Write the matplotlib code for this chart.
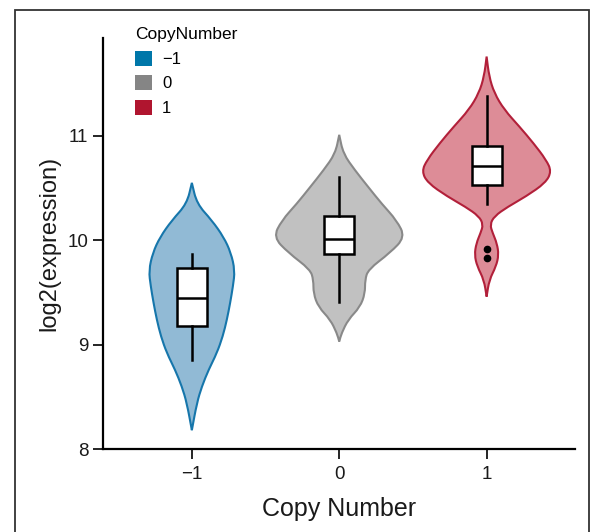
import matplotlib
matplotlib.use("Agg")
import matplotlib.pyplot as plt
from matplotlib.path import Path
from matplotlib.patches import PathPatch, Patch, Rectangle

plt.rcParams['font.family'] = ['Liberation Sans', 'DejaVu Sans']

# groups
groups = [-1, 0, 1]
group_labels = ['\u22121', '0', '1']
edge_colors = ['#1676AB', '#898989', '#B2203A']
fill_colors = ['#91BAD5', '#C1C1C1', '#DD8C97']
legend_colors = ['#0077A9', '#858585', '#B0152F']

# violin outlines: y levels and half widths (x units)
blue_y = [8.18, 8.44, 8.60, 8.76, 8.92, 9.08, 9.24, 9.40, 9.56, 9.71, 9.88, 10.03, 10.19, 10.35, 10.55]
blue_hw = [0.0, 0.034, 0.068, 0.114, 0.17, 0.21, 0.238, 0.26, 0.279, 0.292, 0.265, 0.216, 0.136, 0.034, 0.0]

gray_y = [9.03, 9.11, 9.24, 9.36, 9.49, 9.62, 9.72, 9.88, 10.03, 10.19, 10.35, 10.51, 10.67, 10.83, 11.01]
gray_hw = [0.0, 0.016, 0.061, 0.141, 0.175, 0.175, 0.197, 0.345, 0.447, 0.39, 0.288, 0.197, 0.107, 0.027, 0.0]

red_y = [9.46, 9.62, 9.75, 9.86, 9.97, 10.07, 10.15, 10.23, 10.32, 10.42, 10.55, 10.66, 10.77,
         10.93, 11.09, 11.25, 11.41, 11.57, 11.76]
red_hw = [0.0, 0.018, 0.064, 0.082, 0.07, 0.041, 0.023, 0.052, 0.143, 0.267, 0.40, 0.44, 0.404,
          0.318, 0.222, 0.12, 0.052, 0.017, 0.0]

violin_y = [blue_y, gray_y, red_y]
violin_hw = [blue_hw, gray_hw, red_hw]

# box statistics
whislo = [8.85, 9.41, 10.35]
q1 = [9.18, 9.87, 10.53]
med = [9.45, 10.01, 10.71]
q3 = [9.73, 10.23, 10.90]
whishi = [9.865, 10.61, 11.38]
fliers = [[], [], [9.913, 9.827]]


def violin_path(x0, ys, hws):
    pts = [(x0 + w, y) for y, w in zip(ys, hws)]
    pts += [(x0 - w, y) for y, w in zip(ys[::-1], hws[::-1])]
    # keep the tips sharp
    pts = [pts[0]] + pts[:len(ys)] + [pts[len(ys) - 1]] + pts[len(ys):] + [pts[-1]]
    n = len(pts)
    mid = lambda a, b: ((a[0] + b[0]) / 2, (a[1] + b[1]) / 2)
    verts = [mid(pts[-1], pts[0])]
    codes = [Path.MOVETO]
    for i in range(n):
        verts += [pts[i], mid(pts[i], pts[(i + 1) % n])]
        codes += [Path.CURVE3, Path.CURVE3]
    return Path(verts, codes)


fig = plt.figure(figsize=(5.91, 5.32), dpi=100)
ax = fig.add_axes([0.175, 0.156, 0.798, 0.773])

for i, g in enumerate(groups):
    p = violin_path(g, violin_y[i], violin_hw[i])
    ax.add_patch(PathPatch(p, facecolor=fill_colors[i], edgecolor=edge_colors[i], lw=1.5, zorder=2))

stats = []
for i in range(3):
    stats.append(dict(med=med[i], q1=q1[i], q3=q3[i], whislo=whislo[i], whishi=whishi[i],
                      fliers=fliers[i]))
ax.bxp(stats, positions=groups, widths=0.204, patch_artist=True, showcaps=False,
       boxprops=dict(facecolor='white', edgecolor='black', lw=1.8),
       medianprops=dict(color='black', lw=1.8),
       whiskerprops=dict(color='black', lw=1.8),
       flierprops=dict(marker='o', markerfacecolor='black', markeredgecolor='black', markersize=4.5),
       zorder=3)

ax.set_xlim(-1.6, 1.6)
ax.set_ylim(8, 11.94)
ax.set_xticks(groups)
ax.set_xticklabels(group_labels)
ax.set_yticks([8, 9, 10, 11])
for s in ['top', 'right']:
    ax.spines[s].set_visible(False)
for s in ['left', 'bottom']:
    ax.spines[s].set_linewidth(1.6)
ax.tick_params(length=7, width=1.2, labelsize=13.5, labelcolor='#1a1a1a', pad=5)
ax.tick_params(axis='y', pad=4)

ax.set_xlabel('Copy Number', fontsize=18, color='#1a1a1a', labelpad=10)
ax.set_ylabel('log2(expression)', fontsize=17, color='#1a1a1a', labelpad=5)

handles = [Patch(facecolor=c, edgecolor='none') for c in legend_colors]
leg = ax.legend(handles, group_labels, title='CopyNumber', loc='upper left',
                bbox_to_anchor=(127 / 591, 1 - 19 / 532), bbox_transform=fig.transFigure,
                frameon=False, fontsize=12, title_fontsize=12.5, handlelength=1.0,
                handleheight=1.0, labelspacing=0.5, handletextpad=0.6, borderpad=0,
                alignment='left')

fig.patches.append(Rectangle((15 / 591, -0.05), (589 - 15) / 591, 1.05 - 10 / 532,
                             transform=fig.transFigure, fill=False, edgecolor='#333333', lw=1.3))

fig.savefig('out.png', dpi=100)
